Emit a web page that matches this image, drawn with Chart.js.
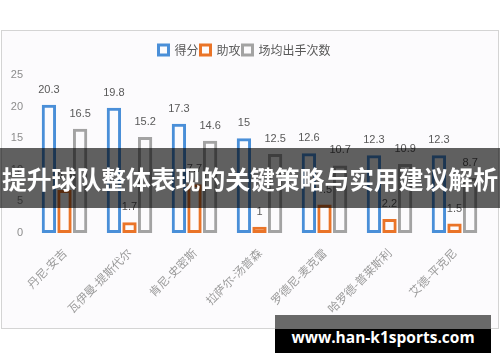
<!DOCTYPE html>
<html><head><meta charset="utf-8">
<script src="https://cdn.jsdelivr.net/npm/chart.js@4/dist/chart.umd.min.js"></script>
<style>
html,body{margin:0;padding:0;background:#fff;width:500px;height:362px;overflow:hidden;}
#box{position:absolute;left:1px;top:30px;width:496px;height:297px;border:1px solid #d4d4d4;background:#fcfbfd;}
#c{position:absolute;left:0;top:0;}
#band{position:absolute;left:0;top:148px;width:500px;height:60px;background:rgba(0,0,0,0.62);color:#fff;
 font-family:"Noto Sans CJK SC";font-weight:700;font-size:24.8px;line-height:60px;text-align:center;white-space:nowrap;}
#wm1{position:absolute;left:275px;top:315px;width:216px;height:14px;background:#696969;}
#wm2{position:absolute;left:275px;top:329px;width:216px;height:24px;background:#000;}
#wmt{position:absolute;left:275px;top:322px;width:216px;height:30px;line-height:30px;color:#fff;text-align:center;
 font-family:"Open Sans";font-weight:700;font-size:15.5px;white-space:nowrap;}
</style></head>
<body>
<div id="box"><canvas id="c" width="496" height="297"></canvas></div>
<div id="band">提升球队整体表现的关键策略与实用建议解析</div>
<div id="wm1"></div><div id="wm2"></div>
<div id="wmt">www.han-k1sports.com</div>
<script>
const players = ["丹尼-安吉","瓦伊曼-提斯代尔","肯尼-史密斯","拉萨尔-汤普森","罗德尼-麦克雷","哈罗德-普莱斯利","艾德-平克尼"];
const points = [20.3, 19.8, 17.3, 15, 12.6, 12.3, 12.3];
const assists = [6.8, 1.7, 7.7, 1, 4.5, 2.2, 1.5];
const fga = [16.5, 15.2, 14.6, 12.5, 10.7, 10.9, 8.7];
const seriesNames = ["得分","助攻","场均出手次数"];
const yTicks = [0, 5, 10, 15, 20, 25];

const valueLabels = {
  id: 'valueLabels',
  afterDatasetsDraw(chart) {
    const ctx = chart.ctx;
    ctx.save();
    ctx.font = '11px "Liberation Sans"';
    ctx.fillStyle = '#595959';
    ctx.textAlign = 'center';
    ctx.textBaseline = 'middle';
    chart.data.datasets.forEach((ds, i) => {
      chart.getDatasetMeta(i).data.forEach((bar, j) => {
        ctx.fillText(String(ds.data[j]), bar.x, bar.y - 15);
      });
    });
    ctx.restore();
  }
};
const legendFit = {
  id: 'legendFit',
  beforeInit(chart) {
    const orig = chart.legend.fit;
    chart.legend.fit = function() { orig.bind(chart.legend)(); this.height = 33; };
  }
};

new Chart(document.getElementById('c'), {
  type: 'bar',
  data: {
    labels: players,
    datasets: [
      {label: seriesNames[0], data: points, borderColor: '#4a8fd8'},
      {label: seriesNames[1], data: assists, borderColor: '#ea7428'},
      {label: seriesNames[2], data: fga, borderColor: '#a3a3a3'}
    ].map(d => Object.assign(d, {backgroundColor: 'rgba(255,255,255,0)', borderWidth: 3, borderSkipped: false,
      categoryPercentage: 0.72, barPercentage: 0.92}))
  },
  options: {
    responsive: false,
    animation: false,
    devicePixelRatio: 1,
    layout: {padding: {top: 11, right: 11, left: 0, bottom: 0}},
    plugins: {
      legend: {position: 'top', labels: {boxWidth: 10, boxHeight: 10, padding: 2, color: '#595959',
        font: {size: 12, family: '"Noto Sans CJK SC"'}}},
      tooltip: {enabled: false}
    },
    scales: {
      x: {
        grid: {display: false, drawTicks: false},
        border: {display: false},
        ticks: {color: '#9a9a9a', font: {size: 11.5, family: '"Noto Sans CJK SC"'}, minRotation: 45, maxRotation: 45, autoSkip: false, padding: 13},
        afterFit(s) { s.height = 95; }
      },
      y: {
        min: 0, max: 25,
        grid: {display: false, drawTicks: false},
        border: {display: false},
        afterBuildTicks(s) { s.ticks = yTicks.map(v => ({value: v})); },
        ticks: {color: '#8c8c8c', font: {size: 11, family: '"Liberation Sans"'}, padding: 9},
        afterFit(s) { s.width = 30; }
      }
    }
  },
  plugins: [valueLabels, legendFit]
});
</script>
</body></html>
